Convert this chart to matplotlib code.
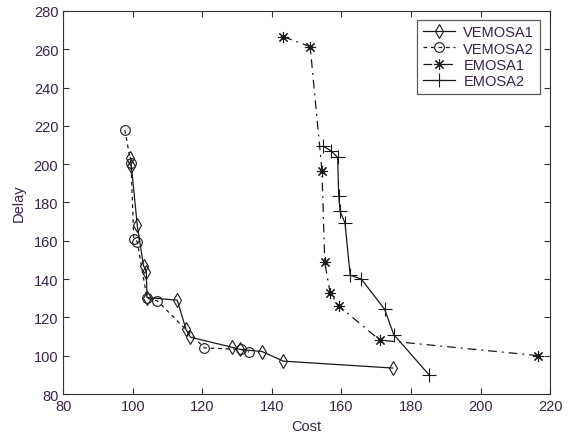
import matplotlib
matplotlib.use("Agg")
import matplotlib.pyplot as plt

# --- data ---
vemosa1_cost = [99.3, 99.6, 101.3, 103.1, 103.9, 104.1, 112.8, 115.3, 116.6, 128.4, 130.9, 137.2, 143.3, 174.7]
vemosa1_delay = [203.4, 199.2, 168.0, 147.0, 143.9, 130.4, 129.0, 113.8, 109.7, 104.5, 103.3, 102.2, 97.2, 93.6]

vemosa2_cost = [97.7, 99.5, 100.3, 101.3, 104.1, 107.1, 120.6, 131.2, 133.4]
vemosa2_delay = [217.9, 200.5, 161.0, 159.6, 130.0, 128.6, 104.1, 103.3, 101.9]

emosa1_cost = [143.3, 151.0, 154.4, 155.2, 156.7, 159.2, 171.0, 216.4]
emosa1_delay = [266.5, 261.3, 196.4, 148.8, 133.0, 126.0, 108.2, 100.1]

emosa2_cost = [154.7, 157.0, 158.9, 159.2, 159.6, 161.0, 162.5, 165.7, 172.4, 175.0, 185.1]
emosa2_delay = [209.5, 206.9, 203.5, 183.4, 175.4, 169.4, 142.1, 140.0, 124.3, 111.1, 90.2]

xticks = list(range(80, 221, 20))
yticks = list(range(80, 281, 20))

TXT = "#3a2448"
LINE = "#1a1a1a"

plt.rcParams["font.family"] = ["Liberation Sans", "DejaVu Sans"]

fig = plt.figure(figsize=(5.69, 4.39), dpi=100)
ax = fig.add_axes([0.111, 0.100, 0.856, 0.873])

kw = dict(color=LINE, linewidth=0.9, markeredgewidth=0.8)
ax.plot(vemosa1_cost, vemosa1_delay, linestyle="-", marker="d", markersize=7.5,
        markerfacecolor="none", label="VEMOSA1", **kw)
ax.plot(vemosa2_cost, vemosa2_delay, linestyle=(0, (3, 3)), marker="o", markersize=7,
        markerfacecolor="none", label="VEMOSA2", **kw)
ax.plot(emosa1_cost, emosa1_delay, linestyle=(0, (7, 4, 1.5, 4)), marker=(8, 2, 0),
        markersize=8, label="EMOSA1", **kw)
ax.plot(emosa1_cost, emosa1_delay, linestyle="none", marker="o", markersize=2.5,
        color=LINE)
ax.plot(emosa2_cost, emosa2_delay, linestyle="-", marker="+", markersize=10,
        label="EMOSA2", **kw)

ax.set_xlim(80, 220)
ax.set_ylim(80, 280)
ax.set_xticks(xticks)
ax.set_yticks(yticks)
ax.tick_params(direction="in", top=True, right=True, length=4, width=0.8,
               labelsize=10.5, labelcolor=TXT, color="#333333")
for s in ax.spines.values():
    s.set_color("#333333")
    s.set_linewidth(0.8)

ax.set_xlabel("Cost", fontsize=10.5, color=TXT, labelpad=4)
ax.set_ylabel("Delay", fontsize=10.5, color=TXT, labelpad=6)

leg = ax.legend(loc="upper right", bbox_to_anchor=(0.985, 0.985), fontsize=10.5,
                frameon=True, fancybox=False, handlelength=2.2, handletextpad=0.6,
                borderpad=0.4, labelspacing=0.15, borderaxespad=0.2)
leg.get_frame().set_edgecolor("#333333")
leg.get_frame().set_linewidth(0.9)
for t in leg.get_texts():
    t.set_color(TXT)

fig.savefig("out.png", dpi=100)
